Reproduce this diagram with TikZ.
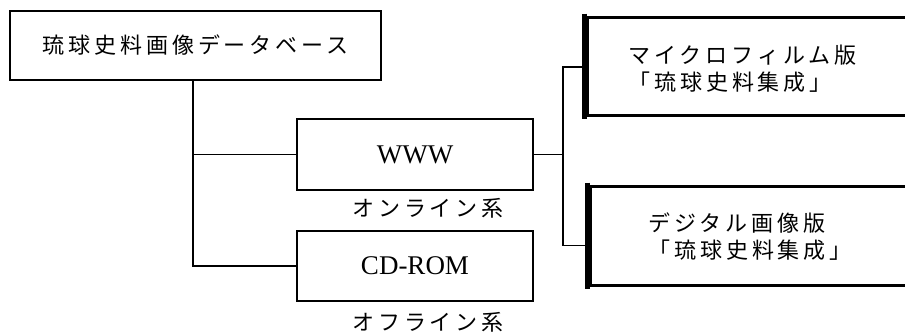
\documentclass[tikz,border=0pt]{standalone}
\usepackage{fontspec}
\setmainfont{Liberation Serif}
\newfontfamily\jp[LetterSpace=18]{Noto Sans CJK JP}
\usetikzlibrary{calc}
\begin{document}
\begin{tikzpicture}[x=1pt,y=-1pt,
  box/.style={draw,rectangle,line width=1.2pt,inner sep=0pt,fill=white},
  heavy/.style={draw,rectangle,line width=3pt,inner sep=0pt},
  jptext/.style={inner sep=0pt,font=\jp\fontsize{22}{26}\selectfont},
  lattext/.style={font=\fontsize{27}{30}\selectfont},
  conn/.style={line width=1.2pt}]
\useasboundingbox (0,0) rectangle (905,333);
\clip (0,0) rectangle (905,333);
% boxes
\node[box,minimum width=371pt,minimum height=69pt,jptext] (db) at (195.5,45.5) {琉球史料画像データベース};
\node[box,minimum width=236pt,minimum height=71pt,lattext] (www) at (415,154.5) {WWW};
\node[box,minimum width=236pt,minimum height=70pt,lattext] (cd) at (415,266) {CD-ROM};
\node[heavy,minimum width=333pt,minimum height=98pt] (mf) at (753.5,66) {};
\node[heavy,minimum width=331pt,minimum height=99pt] (dg) at (755.5,235.5) {};
\draw[line width=5pt] ($(mf.north west)+(-1,-2)$) -- ($(mf.south west)+(-1,2)$);
\draw[line width=5pt] ($(dg.north west)+(-1,-2)$) -- ($(dg.south west)+(-1,2)$);
% texts in right boxes
\node[jptext,anchor=west] (mf1) at (628,55) {マイクロフィルム版};
\node[jptext,anchor=west] (mf2) at (628,82) {「琉球史料集成」};
\node[jptext,anchor=west] (dg1) at (648,223) {デジタル画像版};
\node[jptext,anchor=west] (dg2) at (648,250) {「琉球史料集成」};
% labels
\node[jptext] (on) at (428,208) {オンライン系};
\node[jptext] (off) at (428,322) {オフライン系};
% connectors
\draw[conn] (db.south -| 193,0) |- (www.west);
\draw[conn] (db.south -| 193,0) |- (cd.west);
\coordinate (j) at (563,154.5);
\draw[conn] (www.east) -- (j);
\draw[conn] ($(mf.west)+(-3,1)$) -| (j) |- ($(dg.west)+(-3,10)$);
\end{tikzpicture}
\end{document}
